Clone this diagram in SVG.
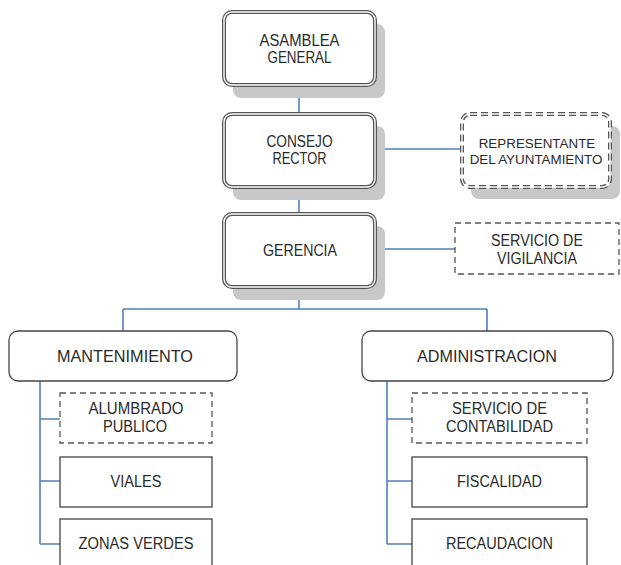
<svg xmlns="http://www.w3.org/2000/svg" width="621" height="565" viewBox="0 0 621 565">
<defs>
<style>
.shadow{fill:#c8c8c8;stroke:none}
.dbl-out{fill:#fff;stroke:#555;stroke-width:4}
.dbl-in{fill:none;stroke:#fff;stroke-width:1.4}
.dash-out{fill:#fff;stroke:#555;stroke-width:4;stroke-dasharray:7 4}
.dash-in{fill:none;stroke:#fff;stroke-width:1.4}
.dash{fill:#fff;stroke:#555;stroke-width:1.3;stroke-dasharray:6 4}
.plain{fill:#fff;stroke:#444;stroke-width:1.3}
.conn{fill:none;stroke:#4f7fbf;stroke-width:1.6}
text{font-family:"Liberation Sans",Arial,sans-serif;font-size:16px;fill:#2a2a2a;text-anchor:middle}
text.small{font-size:13.4px}
</style>
</defs>
<rect width="621" height="565" fill="#fff"/>
<g id="connectors">
<path class="conn" d="M299 86V113M299 187V213M375 149H462M375 249H455M299 287V309M123 309H487M123 309V331M487 309V331"/>
<path class="conn" d="M40 381V544M40 419H60M40 481H60M40 544H60"/>
<path class="conn" d="M387 381V544M387 419H412M387 481H412M387 544H412"/>
</g>
<g id="asamblea">
<rect class="shadow" x="233" y="24" width="152" height="74" rx="8"/>
<rect class="dbl-out" x="224" y="12" width="151" height="73" rx="8"/>
<rect class="dbl-in" x="224" y="12" width="151" height="73" rx="8"/>
<text x="299.5" y="46" textLength="80" lengthAdjust="spacingAndGlyphs">ASAMBLEA</text>
<text x="299.5" y="63" textLength="64" lengthAdjust="spacingAndGlyphs">GENERAL</text>
</g>
<g id="consejo">
<rect class="shadow" x="233" y="126" width="152" height="74" rx="8"/>
<rect class="dbl-out" x="224" y="114" width="151" height="73" rx="8"/>
<rect class="dbl-in" x="224" y="114" width="151" height="73" rx="8"/>
<text x="299.5" y="147" textLength="66" lengthAdjust="spacingAndGlyphs">CONSEJO</text>
<text x="299.5" y="164" textLength="54" lengthAdjust="spacingAndGlyphs">RECTOR</text>
</g>
<g id="representante">
<rect class="shadow" x="471" y="126" width="149" height="73" rx="8"/>
<rect class="dash-out" x="462" y="114" width="148" height="73" rx="8"/>
<rect class="dash-in" x="462" y="114" width="148" height="73" rx="8"/>
<text class="small" x="537" y="148">REPRESENTANTE</text>
<text class="small" x="536" y="164">DEL AYUNTAMIENTO</text>
</g>
<g id="gerencia">
<rect class="shadow" x="233" y="226" width="152" height="74" rx="8"/>
<rect class="dbl-out" x="224" y="214" width="151" height="73" rx="8"/>
<rect class="dbl-in" x="224" y="214" width="151" height="73" rx="8"/>
<text x="300" y="256" textLength="74" lengthAdjust="spacingAndGlyphs">GERENCIA</text>
</g>
<g id="vigilancia">
<rect class="dash" x="455" y="223" width="164" height="51"/>
<text x="537" y="246" textLength="92" lengthAdjust="spacingAndGlyphs">SERVICIO DE</text>
<text x="537" y="264" textLength="80" lengthAdjust="spacingAndGlyphs">VIGILANCIA</text>
</g>
<g id="mantenimiento">
<rect class="plain" x="9" y="331" width="228" height="50" rx="9"/>
<text x="125" y="362" textLength="136" lengthAdjust="spacingAndGlyphs">MANTENIMIENTO</text>
</g>
<g id="administracion">
<rect class="plain" x="362" y="331" width="251" height="50" rx="9"/>
<text x="487" y="362" textLength="140" lengthAdjust="spacingAndGlyphs">ADMINISTRACION</text>
</g>
<g id="alumbrado">
<rect class="dash" x="60" y="393" width="152" height="50"/>
<text x="136" y="414" textLength="95" lengthAdjust="spacingAndGlyphs">ALUMBRADO</text>
<text x="135" y="432" textLength="64" lengthAdjust="spacingAndGlyphs">PUBLICO</text>
</g>
<g id="viales">
<rect class="plain" x="60" y="457" width="152" height="50"/>
<text x="136" y="487" textLength="51" lengthAdjust="spacingAndGlyphs">VIALES</text>
</g>
<g id="zonas">
<rect class="plain" x="60" y="519" width="152" height="60"/>
<text x="136" y="549" textLength="115" lengthAdjust="spacingAndGlyphs">ZONAS VERDES</text>
</g>
<g id="contabilidad">
<rect class="dash" x="412" y="393" width="175" height="50"/>
<text x="499.5" y="414" textLength="95" lengthAdjust="spacingAndGlyphs">SERVICIO DE</text>
<text x="499.5" y="432" textLength="107" lengthAdjust="spacingAndGlyphs">CONTABILIDAD</text>
</g>
<g id="fiscalidad">
<rect class="plain" x="412" y="457" width="175" height="50"/>
<text x="499.5" y="487" textLength="85" lengthAdjust="spacingAndGlyphs">FISCALIDAD</text>
</g>
<g id="recaudacion">
<rect class="plain" x="412" y="519" width="175" height="60"/>
<text x="499.5" y="549" textLength="107" lengthAdjust="spacingAndGlyphs">RECAUDACION</text>
</g>
</svg>
